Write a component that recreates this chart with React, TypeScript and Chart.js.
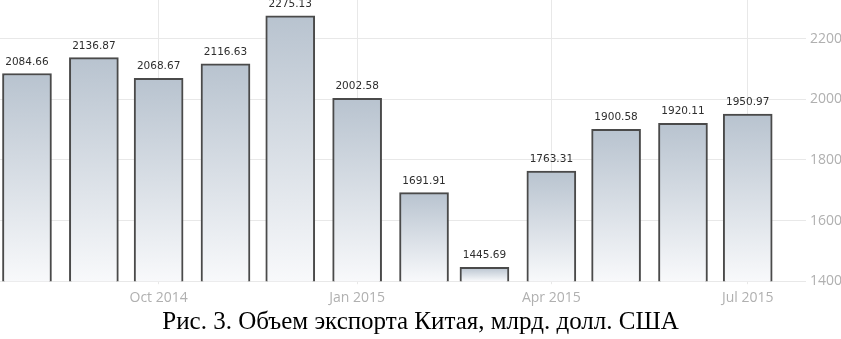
import React, { useEffect, useRef } from "react";
import { Chart, registerables } from "chart.js";

Chart.register(...registerables);

const categories = ["2014-08", "2014-09", "2014-10", "2014-11", "2014-12", "2015-01", "2015-02", "2015-03", "2015-04", "2015-05", "2015-06", "2015-07"];
const exportValues = [2084.66, 2136.87, 2068.67, 2116.63, 2275.13, 2002.58, 1691.91, 1445.69, 1763.31, 1900.58, 1920.11, 1950.97];
const xTickMonths = ["2014-10", "2015-01", "2015-04", "2015-07"];
const xTickLabels = ["Oct 2014", "Jan 2015", "Apr 2015", "Jul 2015"];
const yTickValues = [1400, 1600, 1800, 2000, 2200];
const caption = "Рис. 3. Объем экспорта Китая, млрд. долл. США";

const toDay = (m: string) => {
  const [y, mo] = m.split("-").map(Number);
  return Date.UTC(y, mo - 1, 1) / 86400000;
};

const valueLabels = {
  id: "valueLabels",
  afterDatasetsDraw(chart: any) {
    const ctx = chart.ctx;
    const meta = chart.getDatasetMeta(0);
    ctx.save();
    ctx.font = "10.5px 'DejaVu Sans', sans-serif";
    ctx.fillStyle = "#2e2e2e";
    ctx.textAlign = "center";
    ctx.textBaseline = "alphabetic";
    meta.data.forEach((el: any, i: number) => {
      ctx.fillText(exportValues[i].toFixed(2), el.x, el.y - 9);
    });
    ctx.restore();
  },
};

export default function App() {
  const ref = useRef<HTMLCanvasElement>(null);
  useEffect(() => {
    if (!ref.current) return;
    const first = toDay(categories[0]);
    const last = toDay(categories[categories.length - 1]);
    const chart = new Chart(ref.current, {
      type: "bar",
      data: {
        datasets: [
          {
            data: categories.map((c, i) => ({ x: toDay(c), y: exportValues[i] })),
            barThickness: 49,
            borderWidth: 2,
            borderColor: "#4a4a4a",
            borderSkipped: false,
            backgroundColor: (context: any) => {
              const chart = context.chart;
              const y = chart.scales?.y;
              if (!y || context.raw == null) return "#c8d0da";
              const top = y.getPixelForValue(context.raw.y);
              const bottom = y.getPixelForValue(y.min);
              if (!isFinite(top) || !isFinite(bottom) || bottom <= top) return "#c8d0da";
              const g = chart.ctx.createLinearGradient(0, top, 0, bottom);
              g.addColorStop(0, "#b8c3cf");
              g.addColorStop(1, "#f8f9fb");
              return g;
            },
          } as any,
        ],
      },
      options: {
        animation: false,
        responsive: true,
        maintainAspectRatio: false,
        layout: { padding: 0 },
        plugins: { legend: { display: false }, tooltip: { enabled: false } },
        scales: {
          x: {
            type: "linear",
            offset: false,
            min: first - 12.5,
            max: last + 27,
            afterBuildTicks: (scale: any) => {
              scale.ticks = xTickMonths.map((m) => ({ value: toDay(m) }));
            },
            ticks: {
              callback: (v: any) => {
                const idx = xTickMonths.findIndex((m) => toDay(m) === v);
                return idx >= 0 ? xTickLabels[idx] : "";
              },
              font: { family: "'Open Sans', sans-serif", size: 14 },
              color: "#b0b0b0",
              padding: 5,
              maxRotation: 0,
            },
            grid: { color: "#e8e8e8", drawTicks: true, tickLength: 3, offset: false },
            border: { display: false },
          },
          y: {
            position: "right",
            min: 1400,
            max: 2329,
            afterBuildTicks: (scale: any) => {
              scale.ticks = yTickValues.map((v) => ({ value: v }));
            },
            ticks: {
              callback: (v: any) => String(v),
              font: { family: "'Open Sans', sans-serif", size: 14 },
              color: "#b0b0b0",
              padding: 4,
            },
            grid: { color: "#e8e8e8", drawTicks: false },
            border: { display: false },
          },
        },
      },
      plugins: [valueLabels],
    });
    return () => chart.destroy();
  }, []);

  return (
    <div style={{ position: "absolute", left: 0, top: 0, width: 841, height: 339, overflow: "hidden", background: "#fff" }}>
      <div style={{ position: "absolute", left: 0, top: -13, width: 846, height: 324 }}>
        <canvas ref={ref} />
      </div>
      <div
        style={{
          position: "absolute",
          left: 0,
          top: 306,
          width: 841,
          textAlign: "center",
          fontFamily: "'Liberation Serif', 'Times New Roman', serif",
          fontSize: 25,
          lineHeight: "30px",
          color: "#000",
        }}
      >
        {caption}
      </div>
    </div>
  );
}
